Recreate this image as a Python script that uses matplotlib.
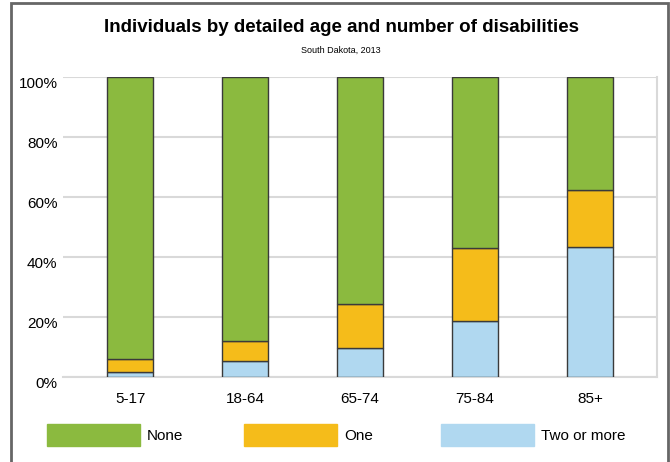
import matplotlib
matplotlib.use("Agg")
import matplotlib.pyplot as plt
import matplotlib.transforms as mtransforms
from matplotlib.patches import Rectangle
import numpy as np

plt.rcParams["font.family"] = ["Liberation Sans", "DejaVu Sans"]

ages = ["5-17", "18-64", "65-74", "75-84", "85+"]
two_or_more = [1.6, 5.3, 9.7, 18.7, 43.4]
one = [4.3, 6.6, 14.8, 24.2, 18.9]
none = [94.1, 88.1, 75.5, 57.1, 37.7]

series = ["None", "One", "Two or more"]
colors = {"None": "#8bba3f", "One": "#f5bc1a", "Two or more": "#b0d8f0"}

fig = plt.figure(figsize=(6.7, 4.62), dpi=100)
ax = fig.add_axes([63 / 670, 1 - 377 / 462, 594 / 670, 300 / 462])

x = np.arange(len(ages))
two_arr = np.array(two_or_more)
one_arr = np.array(one)
kw = dict(width=0.4, edgecolor="#3a3a3a", linewidth=1, zorder=3)
ax.bar(x, two_arr, color=colors["Two or more"], **kw)
ax.bar(x, one_arr, bottom=two_arr, color=colors["One"], **kw)
ax.bar(x, none, bottom=two_arr + one_arr, color=colors["None"], **kw)

ax.set_xlim(-0.583, 4.583)
ax.set_ylim(0, 100)
ax.set_yticks(range(0, 101, 20))
ax.set_yticklabels([f"{v}%" for v in range(0, 101, 20)])
ax.set_xticks(x)
ax.set_xticklabels(ages)
ax.tick_params(axis="both", length=0, labelsize=11, colors="black")
ax.tick_params(axis="y", pad=4)
ax.tick_params(axis="x", pad=11)
ax.grid(axis="y", color="#d9d9d9", linewidth=1.5, zorder=0)
ax.set_axisbelow(True)
for side in ["top", "left"]:
    ax.spines[side].set_visible(False)
for side in ["bottom", "right"]:
    ax.spines[side].set_color("#d9d9d9")
    ax.spines[side].set_linewidth(1.5)

# y labels sit a bit below their gridlines
offset = mtransforms.ScaledTranslation(0, -6 / 100, fig.dpi_scale_trans)
for lbl in ax.get_yticklabels():
    lbl.set_transform(lbl.get_transform() + offset)

fig.text(341 / 670, 1 - 28 / 462, "Individuals by detailed age and number of disabilities",
         ha="center", va="center", fontsize=13.5, fontweight="bold")
fig.text(341 / 670, 1 - 50 / 462, "South Dakota, 2013",
         ha="center", va="center", fontsize=6.5)

# legend: evenly spaced swatches
for i, name in enumerate(series):
    x0 = 47 + i * 197
    fig.add_artist(Rectangle((x0 / 670, 1 - 446 / 462), 93 / 670, 22 / 462,
                             transform=fig.transFigure, color=colors[name]))
    fig.text((x0 + 100) / 670, 1 - 436 / 462, name, ha="left", va="center", fontsize=11)

# outer frame
fig.add_artist(Rectangle((11 / 670, -0.05), 657 / 670, 1.05 - 3 / 462,
                         transform=fig.transFigure, fill=False,
                         edgecolor="#666666", linewidth=2))

fig.savefig("out.png", dpi=100)
